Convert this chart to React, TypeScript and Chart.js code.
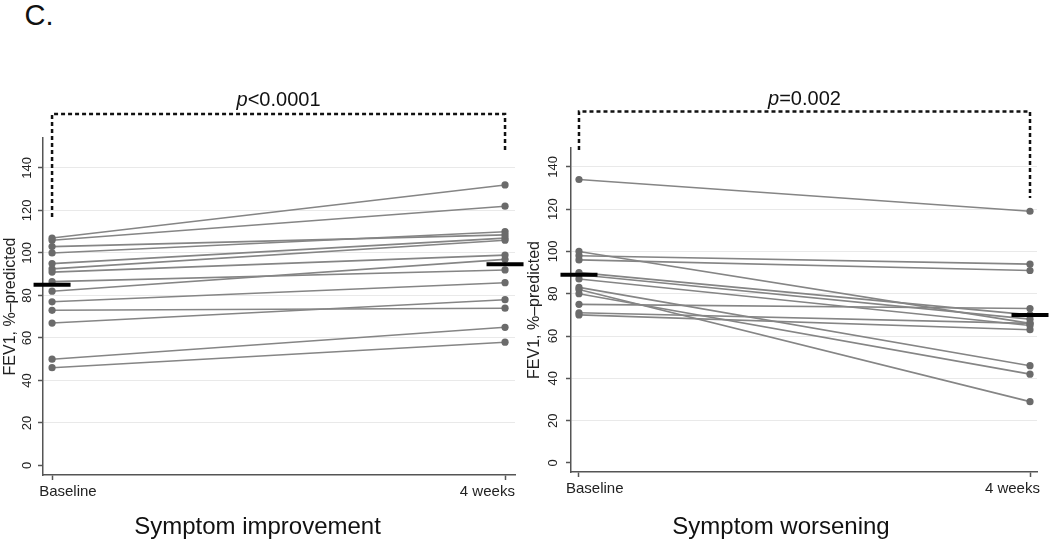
import React, { useEffect, useRef } from 'react';
import { Chart, registerables } from 'chart.js';

Chart.register(...registerables);

const FONT = '"Liberation Sans", Arial, Helvetica, sans-serif';
Chart.defaults.font.family = FONT;

// ---- data ----
const timeLabels = ['Baseline', '4 weeks'];
const yTickValues = [0, 20, 40, 60, 80, 100, 120, 140];

const improveBaseline = [107, 106, 103, 100, 95, 92.5, 91, 86.5, 82, 77, 73, 67, 50, 46];
const improveWeek4 = [132, 122, 108.5, 110, 107, 106, 99, 92, 97, 86, 74, 78, 65, 58];
const improveMeans = [85, 94.7];

const worsenBaseline = [134, 100, 98, 96, 90, 89, 87, 83, 82, 80, 75, 71, 70];
const worsenWeek4 = [119, 66, 94, 91, 70, 68, 65, 46, 29, 42, 73, 66, 63];
const worsenMeans = [89, 70];

const panelTitles = ['Symptom improvement', 'Symptom worsening'];
const pValues = ['<0.0001', '=0.002'];

// label positions along the x scale (time 0 = baseline, 1 = 4 weeks)
const xLabelPos = [0.035, 0.961];

type PanelCfg = {
  pageLeft: number;
  baseline: number[];
  week4: number[];
  means: number[];
  title: string;
  pRest: string;
  pad: { left: number; top: number; right: number; bottom: number };
  yWidth: number;
  xHeight: number;
  yMin: number;
  yMax: number;
  xMin: number;
  xMax: number;
  yTickPad: number;
  yTitlePad: number;
  bracket: { y: number; leftBottom: number; rightBottom: number; textY: number; size: number };
};

const bracketPlugin = {
  id: 'bracket',
  afterDraw(chart: any, _args: any, opts: any) {
    const { ctx } = chart;
    const x = chart.scales.x;
    const x0 = x.getPixelForValue(0);
    const x1 = x.getPixelForValue(1);
    ctx.save();
    ctx.strokeStyle = '#111';
    ctx.lineWidth = 2.5;
    ctx.setLineDash([4, 3]);
    ctx.beginPath();
    ctx.moveTo(x0, opts.leftBottom);
    ctx.lineTo(x0, opts.y);
    ctx.lineTo(x1, opts.y);
    ctx.lineTo(x1, opts.rightBottom);
    ctx.stroke();
    ctx.setLineDash([]);
    const italic = `italic ${opts.size}px ${FONT}`;
    const normal = `${opts.size}px ${FONT}`;
    ctx.font = italic;
    const w1 = ctx.measureText('p').width;
    ctx.font = normal;
    const w2 = ctx.measureText(opts.rest).width;
    const sx = (x0 + x1) / 2 - (w1 + w2) / 2;
    ctx.fillStyle = '#111';
    ctx.textBaseline = 'middle';
    ctx.textAlign = 'left';
    ctx.font = italic;
    ctx.fillText('p', sx, opts.textY);
    ctx.font = normal;
    ctx.fillText(opts.rest, sx + w1, opts.textY);
    ctx.restore();
  },
};

function Panel({ cfg }: { cfg: PanelCfg }) {
  const ref = useRef<HTMLCanvasElement>(null);
  useEffect(() => {
    const subjectSets = cfg.baseline.map((b, i) => ({
      type: 'scatter' as const,
      data: [
        { x: 0, y: b },
        { x: 1, y: cfg.week4[i] },
      ],
      showLine: true,
      borderColor: '#858585',
      borderWidth: 1.6,
      pointRadius: 3.6,
      pointBackgroundColor: '#6b6b6b',
      pointBorderColor: '#6b6b6b',
      pointBorderWidth: 0,
      order: 1,
    }));
    const meanSet = {
      type: 'scatter' as const,
      data: [
        { x: 0, y: cfg.means[0] },
        { x: 1, y: cfg.means[1] },
      ],
      showLine: false,
      pointStyle: 'line' as const,
      pointRadius: 18.5,
      pointBorderWidth: 4,
      pointBorderColor: '#000',
      pointBackgroundColor: '#000',
      clip: false as any,
      order: -1,
    };
    const xTickLabels = ['', timeLabels[0], timeLabels[1], ''];
    const chart = new Chart(ref.current!, {
      type: 'scatter',
      data: { datasets: [meanSet, ...subjectSets] as any },
      plugins: [bracketPlugin as any],
      options: {
        responsive: false,
        animation: false,
        events: [],
        layout: { padding: cfg.pad, autoPadding: false },
        plugins: {
          legend: { display: false },
          tooltip: { enabled: false },
          title: {
            display: true,
            position: 'bottom',
            text: cfg.title,
            color: '#111',
            font: { size: 24, weight: 'normal' as any, family: FONT },
            padding: { top: 0, bottom: 2.6 },
          },
          bracket: { ...cfg.bracket, rest: cfg.pRest },
        } as any,
        scales: {
          x: {
            type: 'linear',
            min: cfg.xMin,
            max: cfg.xMax,
            afterBuildTicks: (s: any) => {
              s.ticks = [{ value: 0 }, { value: xLabelPos[0] }, { value: xLabelPos[1] }, { value: 1 }];
            },
            afterFit: (s: any) => {
              s.height = cfg.xHeight;
              s.paddingLeft = 0;
              s.paddingRight = 0;
            },
            ticks: {
              autoSkip: false,
              maxRotation: 0,
              minRotation: 0,
              padding: 3,
              color: '#222',
              font: { size: 15, family: FONT },
              callback: (_v: any, i: number) => xTickLabels[i],
            },
            grid: {
              drawOnChartArea: false,
              drawTicks: true,
              tickLength: 5,
              tickWidth: 1.5,
              tickColor: (c: any) => (c.index === 0 || c.index === 3 ? '#555' : 'rgba(0,0,0,0)'),
            },
            border: { display: true, color: '#555', width: 1.5 },
          },
          y: {
            type: 'linear',
            min: cfg.yMin,
            max: cfg.yMax,
            afterBuildTicks: (s: any) => {
              s.ticks = yTickValues.map((v) => ({ value: v }));
            },
            afterFit: (s: any) => {
              s.width = cfg.yWidth;
              s.paddingTop = 0;
              s.paddingBottom = 0;
            },
            title: {
              display: true,
              text: 'FEV1, %–predicted',
              color: '#222',
              font: { size: 16, family: FONT },
              padding: { top: cfg.yTitlePad, bottom: 0 },
            },
            ticks: {
              autoSkip: false,
              minRotation: 90,
              maxRotation: 90,
              crossAlign: 'center',
              padding: cfg.yTickPad,
              color: '#222',
              font: { size: 13, family: FONT },
              callback: (v: any) => String(v),
            },
            grid: {
              color: (c: any) => (c.tick && c.tick.value === 0 ? 'rgba(0,0,0,0)' : '#e9e9e9'),
              lineWidth: 1,
              drawTicks: true,
              tickLength: 5,
              tickWidth: 1.5,
              tickColor: '#555',
            },
            border: { display: true, color: '#555', width: 1.5 },
          },
        },
      } as any,
    });
    return () => chart.destroy();
  }, []);
  return (
    <canvas
      ref={ref}
      width={525}
      height={544}
      style={{ position: 'absolute', left: cfg.pageLeft, top: 0, width: 525, height: 544 }}
    />
  );
}

const leftCfg: PanelCfg = {
  pageLeft: 0,
  baseline: improveBaseline,
  week4: improveWeek4,
  means: improveMeans,
  title: panelTitles[0],
  pRest: pValues[0],
  pad: { left: 0, top: 138, right: 10, bottom: 0 },
  yWidth: 43,
  xHeight: 37.6,
  yMin: -4.5,
  yMax: 154.1,
  xMin: -0.02,
  xMax: 1.022,
  yTickPad: 0,
  yTitlePad: 1,
  bracket: { y: 114, leftBottom: 217, rightBottom: 150, textY: 100, size: 20 },
};

const rightCfg: PanelCfg = {
  pageLeft: 525,
  baseline: worsenBaseline,
  week4: worsenWeek4,
  means: worsenMeans,
  title: panelTitles[1],
  pRest: pValues[1],
  pad: { left: 0, top: 148, right: 13, bottom: 0 },
  yWidth: 46,
  xHeight: 40.6,
  yMin: -4.26,
  yMax: 148.9,
  xMin: -0.0177,
  xMax: 1.0155,
  yTickPad: 1.5,
  yTitlePad: 0,
  bracket: { y: 111.5, leftBottom: 150, rightBottom: 198, textY: 99, size: 20 },
};

export default function App() {
  return (
    <div
      style={{
        position: 'fixed',
        left: 0,
        top: 0,
        width: 1050,
        height: 544,
        overflow: 'hidden',
        background: '#fff',
      }}
    >
      <div
        style={{
          position: 'absolute',
          left: 24.5,
          top: 1,
          fontFamily: FONT,
          fontSize: 29,
          lineHeight: '29px',
          color: '#111',
          whiteSpace: 'nowrap',
        }}
      >
        C.
      </div>
      <Panel cfg={leftCfg} />
      <Panel cfg={rightCfg} />
    </div>
  );
}
